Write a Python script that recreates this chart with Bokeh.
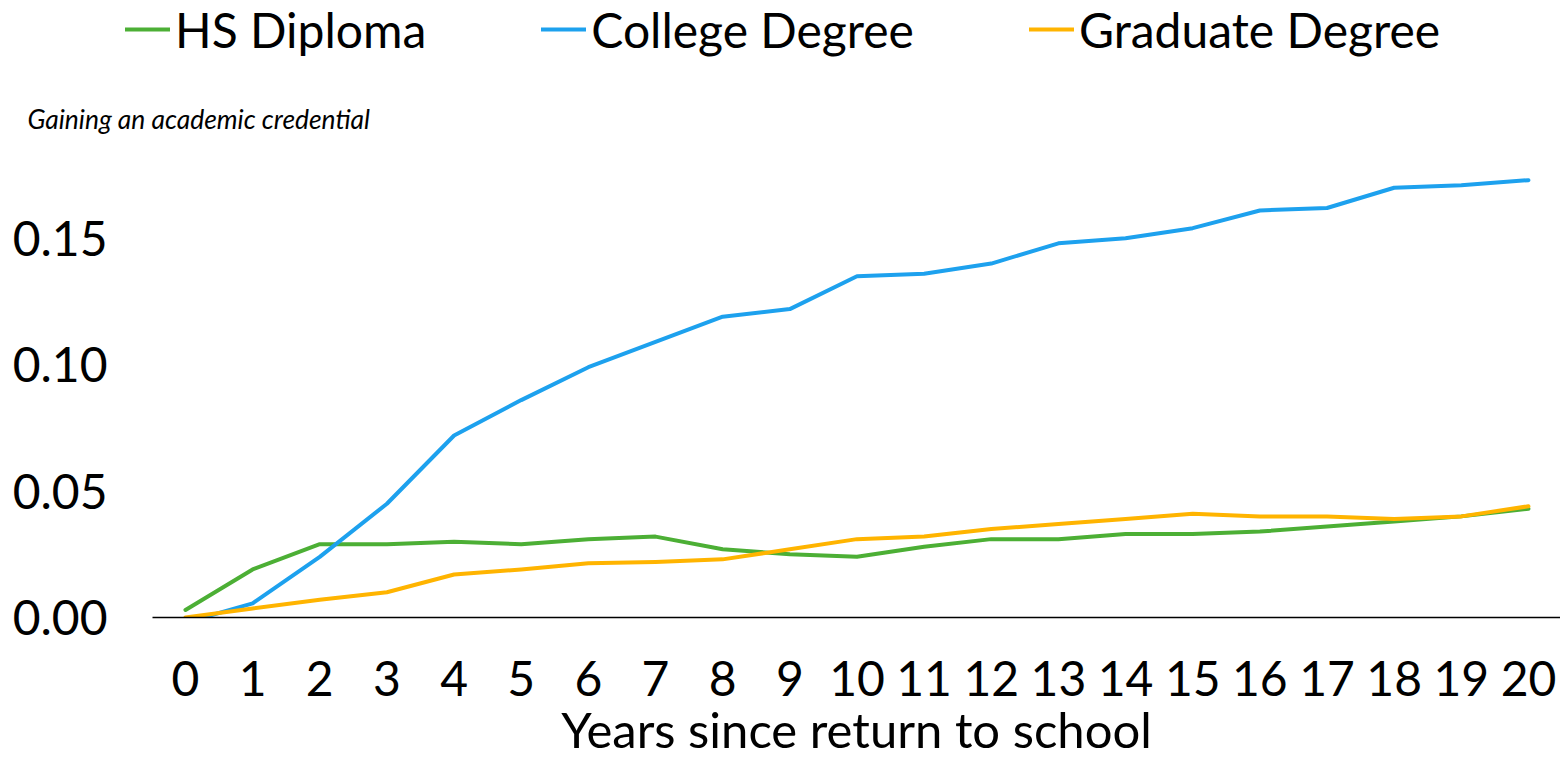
from bokeh.plotting import figure
from bokeh.models import FixedTicker, NumeralTickFormatter, Legend, LegendItem, Label, Range1d
from bokeh.embed import file_html
from bokeh.resources import INLINE

years = list(range(0, 21))
hs_diploma = [0.003, 0.019, 0.029, 0.029, 0.030, 0.029, 0.031, 0.032, 0.027, 0.025, 0.024,
              0.028, 0.031, 0.031, 0.033, 0.033, 0.034, 0.036, 0.038, 0.040, 0.043]
college_degree = [-0.002, 0.0056, 0.024, 0.045, 0.072, 0.086, 0.099, 0.109, 0.119, 0.122, 0.135,
                  0.136, 0.140, 0.148, 0.150, 0.154, 0.161, 0.162, 0.170, 0.171, 0.173]
graduate_degree = [0.000, 0.0036, 0.007, 0.010, 0.017, 0.019, 0.0215, 0.022, 0.023, 0.027, 0.031,
                   0.032, 0.035, 0.037, 0.039, 0.041, 0.040, 0.040, 0.039, 0.040, 0.044]
y_ticks = [0.0, 0.05, 0.10, 0.15]
series_names = ["HS Diploma", "College Degree", "Graduate Degree"]
colors = ["#4CAF35", "#1DA1EE", "#FFB400"]
subtitle = "Gaining an academic credential"
x_label = "Years since return to school"

series = [hs_diploma, college_degree, graduate_degree]

FONT = "Lato"
W = 1560
HEADER_H = 142
MAIN_H = 760 - HEADER_H
BOTTOM = 143
PX_PER_UNIT = 2528.0

# ---------- header: legend + subtitle (separate root, frame fills it) ----------
header = figure(width=W, height=HEADER_H, output_backend="svg", toolbar_location=None,
                x_range=Range1d(100, 101), y_range=Range1d(100, 101),
                x_axis_location=None, y_axis_location=None,
                min_border=0, min_border_left=0, min_border_right=0,
                min_border_top=0, min_border_bottom=0)
header.grid.visible = False
header.outline_line_color = None

legend_renderers = []
for vals, c in zip(series, colors):
    legend_renderers.append(header.line(years, vals, line_color=c, line_width=4, line_cap="round"))

legend = Legend(items=[LegendItem(label=n, renderers=[r]) for n, r in zip(series_names, legend_renderers)],
                orientation="horizontal", location=(125, HEADER_H - 58),
                glyph_width=45, glyph_height=58, label_standoff=5, spacing=115,
                padding=0, margin=0, border_line_alpha=0, background_fill_alpha=0,
                label_text_font=FONT, label_text_font_size="48px", label_text_color="black",
                label_height=58)
header.add_layout(legend, "center")

sub = Label(x=27, y=HEADER_H - 118, x_units="screen", y_units="screen", text=subtitle,
            text_font=FONT, text_font_style="italic", text_font_size="26.4px",
            text_color="black", text_baseline="middle", text_align="left")
header.add_layout(sub)

# ---------- main chart ----------
frame_h = MAIN_H - BOTTOM
y_top = frame_h / PX_PER_UNIT

p = figure(width=W, height=MAIN_H, output_backend="svg", toolbar_location=None,
           x_range=Range1d(-0.491, 20.477), y_range=Range1d(0, y_top),
           min_border_left=152, min_border_right=0, min_border_top=0, min_border_bottom=BOTTOM)
p.outline_line_color = None
p.xgrid.visible = False
p.ygrid.visible = False

for vals, c in zip(series, colors):
    p.line(years, vals, line_color=c, line_width=4, line_join="round", line_cap="round")

p.xaxis.ticker = FixedTicker(ticks=years)
p.xaxis.major_tick_line_color = None
p.xaxis.minor_tick_line_color = None
p.xaxis.axis_line_color = "black"
p.xaxis.axis_line_width = 1.5
p.xaxis.major_label_text_font = FONT
p.xaxis.major_label_text_font_size = "48px"
p.xaxis.major_label_text_color = "black"
p.xaxis.major_label_standoff = 37
p.xaxis.axis_label = x_label
p.xaxis.axis_label_text_font = FONT
p.xaxis.axis_label_text_font_style = "normal"
p.xaxis.axis_label_text_font_size = "49px"
p.xaxis.axis_label_text_color = "black"
p.xaxis.axis_label_standoff = 1

p.yaxis.ticker = FixedTicker(ticks=y_ticks)
p.yaxis.formatter = NumeralTickFormatter(format="0.00")
p.yaxis.axis_line_color = None
p.yaxis.major_tick_line_color = None
p.yaxis.minor_tick_line_color = None
p.yaxis.major_label_text_font = FONT
p.yaxis.major_label_text_font_size = "48px"
p.yaxis.major_label_text_color = "black"
p.yaxis.major_label_standoff = 39

open("out.html", "w").write(file_html([header, p], INLINE))
